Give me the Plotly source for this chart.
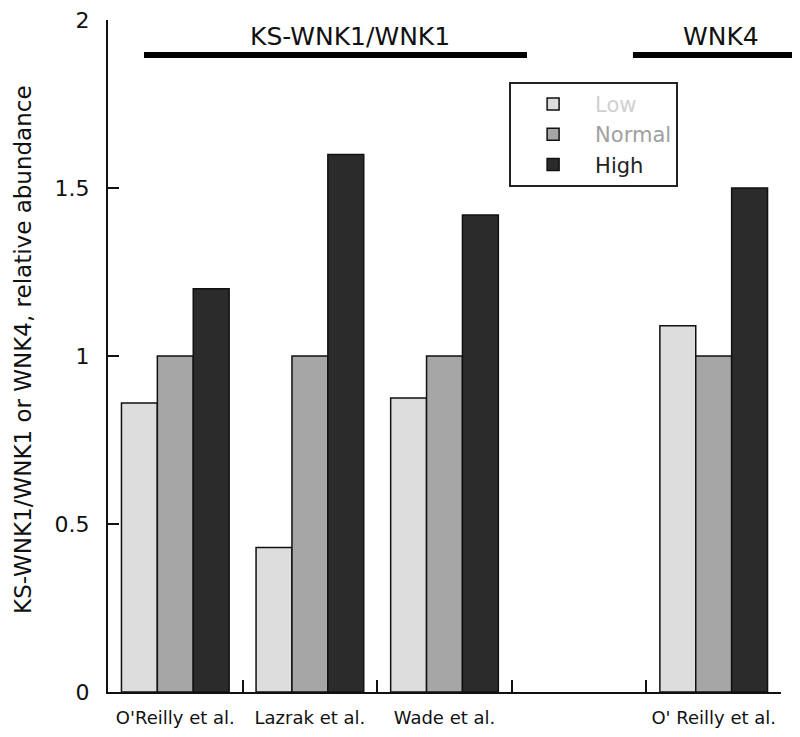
import plotly.graph_objects as go

studies = ["O'Reilly et al.", "Lazrak et al.", "Wade et al.", " ", "O' Reilly et al."]
low = [0.86, 0.43, 0.875, None, 1.09]
normal = [1.0, 1.0, 1.0, None, 1.0]
high = [1.2, 1.6, 1.42, None, 1.5]
y_ticks = [0, 0.5, 1, 1.5, 2]
y_tick_text = ["0", "0.5", "1", "1.5", "2"]
group_labels = ["KS-WNK1/WNK1", "WNK4"]
y_title = "KS-WNK1/WNK1 or WNK4, relative abundance"

FONT = "DejaVu Sans"
series = [
    ("Low", low, "#dddddd", "#d0d0d0"),
    ("Normal", normal, "#a6a6a6", "#a0a0a0"),
    ("High", high, "#2b2b2b", "#222222"),
]

fig = go.Figure()
for name, vals, col, tcol in series:
    fig.add_trace(go.Bar(
        x=studies, y=vals,
        name=f"<span style='color:{tcol}'>{name}</span>",
        marker=dict(color=col, line=dict(color="#111111", width=1.5)),
    ))

fig.update_layout(
    width=800, height=737,
    paper_bgcolor="white", plot_bgcolor="white",
    margin=dict(l=100, r=27, t=12, b=53, autoexpand=False),
    barmode="group", bargap=0.2, bargroupgap=0,
    font=dict(family=FONT, color="#111111"),
    showlegend=True,
    legend=dict(
        x=0.596, y=0.908, xanchor="left", yanchor="top",
        bgcolor="white", bordercolor="#222222", borderwidth=2,
        font=dict(family=FONT, size=21),
        itemwidth=74,
        tracegroupgap=0,
    ),
    xaxis=dict(
        type="category", categoryorder="array", categoryarray=studies,
        range=[-0.5, 4.5], automargin=False,
        showline=True, linecolor="#111111", linewidth=2,
        ticks="inside", tickson="boundaries", ticklen=12, tickwidth=1.5, tickcolor="#111111",
        ticklabelstandoff=8,
        showgrid=False, zeroline=False,
        tickfont=dict(family=FONT, size=18, color="#111111"),
    ),
    yaxis=dict(
        range=[0, 2], automargin=False,
        tickvals=y_ticks, ticktext=y_tick_text,
        showline=True, linecolor="#111111", linewidth=2,
        ticks="inside", ticklen=11, tickwidth=1.5, tickcolor="#111111",
        ticklabelstandoff=12, ticklabeloverflow="allow",
        showgrid=False, zeroline=False,
        tickfont=dict(family=FONT, size=22, color="#111111"),
    ),
    shapes=[
        dict(type="line", xref="paper", yref="paper", x0=0.0535, x1=0.6226, y0=0.948, y1=0.948,
             line=dict(color="black", width=6)),
        dict(type="line", xref="paper", yref="paper", x0=0.780, x1=1.018, y0=0.948, y1=0.948,
             line=dict(color="black", width=6)),
    ],
    annotations=[
        dict(text=group_labels[0], xref="paper", yref="paper", x=0.36, y=0.975,
             xanchor="center", yanchor="middle",
             showarrow=False, font=dict(family=FONT, size=25, color="#111111")),
        dict(text=group_labels[1], xref="paper", yref="paper", x=0.911, y=0.975,
             xanchor="center", yanchor="middle",
             showarrow=False, font=dict(family=FONT, size=25, color="#111111")),
        dict(text=y_title, xref="paper", yref="paper", x=-0.1263, y=0.509,
             xanchor="center", yanchor="middle", textangle=-90,
             showarrow=False, font=dict(family=FONT, size=23, color="#111111")),
    ],
)

fig.write_html("out.html")
